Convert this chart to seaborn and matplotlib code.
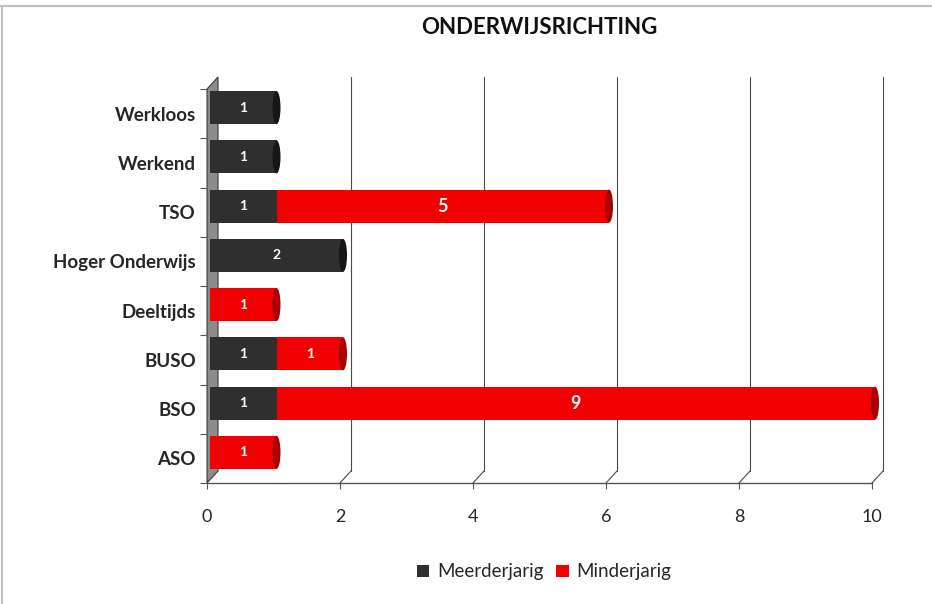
import matplotlib
matplotlib.use("Agg")
import matplotlib.pyplot as plt
from matplotlib.transforms import ScaledTranslation
from matplotlib.patches import Polygon, Ellipse, Patch
from matplotlib.lines import Line2D
import seaborn as sns
import pandas as pd
import numpy as np

categories = ["Werkloos", "Werkend", "TSO", "Hoger Onderwijs", "Deeltijds", "BUSO", "BSO", "ASO"]
meerderjarig = [1, 1, 1, 2, 0, 1, 1, 0]
minderjarig = [0, 0, 5, 0, 1, 1, 9, 1]
series_names = ["Meerderjarig", "Minderjarig"]
x_ticks = [0, 2, 4, 6, 8, 10]
title = "ONDERWIJSRICHTING"

DARK = "#2f2f2f"
RED = "#f00000"
DARK_CAP = "#161616"
RED_CAP = "#a80000"

sns.set_theme(style="white")
plt.rcParams["font.family"] = ["Lato", "DejaVu Sans"]

W, H = 932, 604
fig = plt.figure(figsize=(W / 100, H / 100), dpi=100)

def fx(px):
    return px / W

def fy(py):
    return 1 - py / H

ax = fig.add_axes([fx(207), fy(483), fx(872) - fx(207), (483 - 89) / H])
ax.set_facecolor("none")

df = pd.DataFrame({"cat": categories, "meer": meerderjarig, "minder": minderjarig})
df["total"] = df["meer"] + df["minder"]

BAR_W = 0.67
sns.barplot(data=df, y="cat", x="total", order=categories, color=RED, saturation=1,
            width=BAR_W, orient="h", ax=ax, zorder=3)
sns.barplot(data=df, y="cat", x="meer", order=categories, color=DARK, saturation=1,
            width=BAR_W, orient="h", ax=ax, zorder=4)

ax.set_xlim(0, 10)
ax.set_ylim(len(categories) - 0.5, -0.5)

# 3D depth offset for bars
off_bar = ScaledTranslation(0.03, 0.06, fig.dpi_scale_trans)
for p in list(ax.patches):
    p.set_transform(ax.transData + off_bar)
    p.set_linewidth(0)
    p.set_clip_on(False)

# cylinder end caps
cap_w = 8 / 66.5
for i, (m, n) in enumerate(zip(meerderjarig, minderjarig)):
    tot = m + n
    col = RED_CAP if n > 0 else DARK_CAP
    e = Ellipse((tot, i), cap_w, BAR_W, facecolor=col, edgecolor="none",
                transform=ax.transData + off_bar, zorder=5, clip_on=False)
    ax.add_patch(e)

# value labels
for i, (m, n) in enumerate(zip(meerderjarig, minderjarig)):
    if m > 0:
        ax.text(m / 2, i, str(m), ha="center", va="center", color="white",
                fontsize=10, fontweight="bold",
                transform=ax.transData + off_bar, zorder=6)
    if n > 0:
        ax.text(m + n / 2, i, str(n), ha="center", va="center", color="white",
                fontsize=10 if n <= 2 else 13, fontweight="bold",
                transform=ax.transData + off_bar, zorder=6)

# back-wall gridlines with 3D offset
off_back = ScaledTranslation(0.11, 0.12, fig.dpi_scale_trans)
xt = ax.get_xaxis_transform()
for xv in x_ticks[1:]:
    ax.add_line(Line2D([xv, xv], [0, 1], color="#4a4a4a", lw=0.8,
                       transform=xt + off_back, clip_on=False, zorder=1))
    x0, y0 = xt.transform((xv, 0))
    x1, y1 = x0 + 11, y0 + 12
    fig.add_artist(Line2D([x0 / W, x1 / W], [y0 / H, y1 / H], color="#4a4a4a", lw=0.8,
                          transform=fig.transFigure, zorder=1))

# gray side wall
wall = Polygon([(fx(207), fy(483)), (fx(207), fy(89)), (fx(218), fy(77)), (fx(218), fy(471))],
               closed=True, facecolor="#8c8c8c", edgecolor="#3a3a3a", lw=0.8,
               transform=fig.transFigure, zorder=0)
fig.add_artist(wall)

# spines / ticks
for s in ["top", "right", "left"]:
    ax.spines[s].set_visible(False)
ax.spines["bottom"].set_color("#555555")
ax.spines["bottom"].set_linewidth(1.0)
ax.set_xticks(x_ticks)
ax.set_xticklabels([str(v) for v in x_ticks], fontsize=13)
ax.tick_params(axis="x", bottom=True, length=4, width=0.8, color="#555555", pad=15)
ax.set_yticks(range(len(categories)))
ax.set_yticklabels(categories, fontsize=13.5, fontweight="bold")
ax.set_yticks(np.arange(-0.5, len(categories), 1.0), minor=True)
ax.tick_params(axis="y", which="major", left=False, length=0, pad=8)
ax.tick_params(axis="y", which="minor", left=True, length=5, width=0.8, color="#555555")
ax.set_xlabel("")
ax.set_ylabel("")
ax.grid(False)

# title
fig.text(fx(539), fy(28), title, ha="center", va="center", fontsize=16,
         fontweight="bold", color="#111111")

# legend
handles = [Patch(facecolor=DARK, edgecolor="none"), Patch(facecolor=RED, edgecolor="none")]
fig.legend(handles, series_names, loc="center", bbox_to_anchor=(fx(544), fy(572)), ncol=2,
           frameon=False, fontsize=13.5, handlelength=0.65, handleheight=0.65,
           handletextpad=0.4, columnspacing=0.7)

# chart border
fig.add_artist(Line2D([0, 1], [fy(6), fy(6)], color="#c0c0c0", lw=1.5, transform=fig.transFigure))
fig.add_artist(Line2D([fx(2), fx(2)], [0, fy(6)], color="#c0c0c0", lw=1.5, transform=fig.transFigure))

fig.savefig("out.png", dpi=100)
